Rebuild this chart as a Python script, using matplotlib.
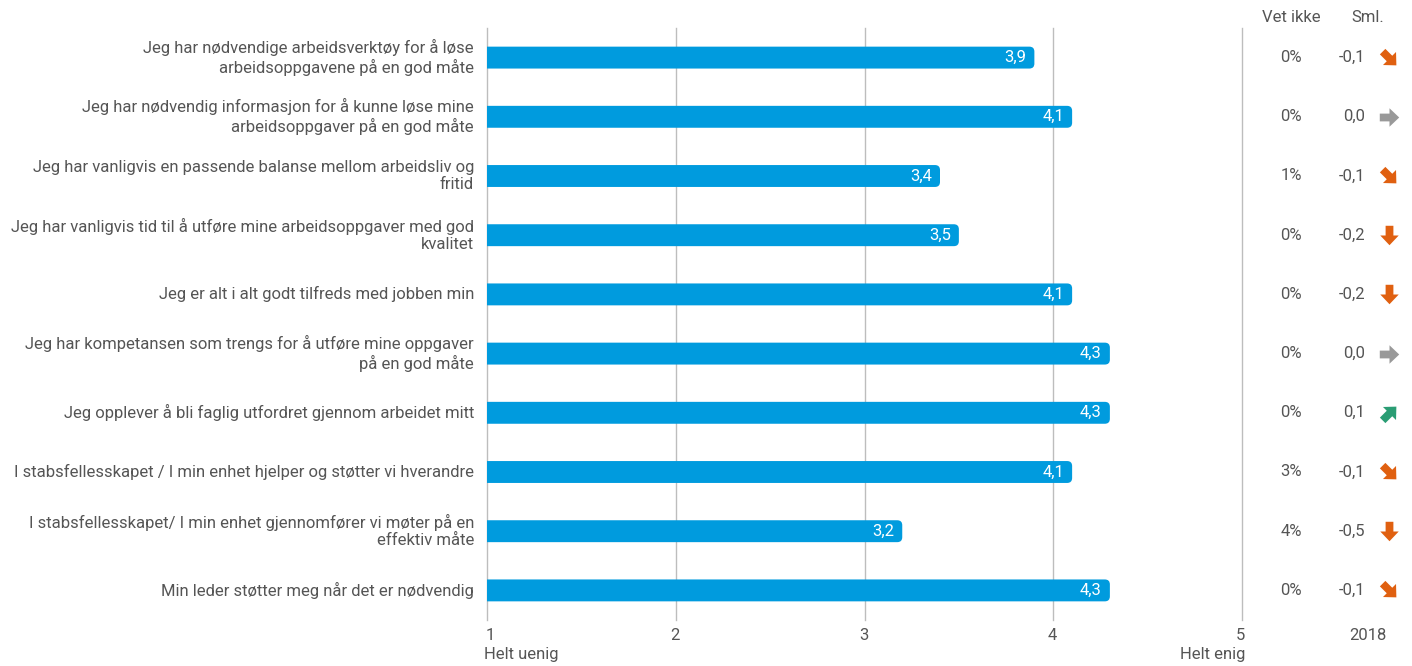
import numpy as np
import matplotlib
matplotlib.use('Agg')
import matplotlib.pyplot as plt
from matplotlib.patches import FancyBboxPatch
from matplotlib.path import Path
from matplotlib.markers import MarkerStyle
from matplotlib.transforms import Affine2D

plt.rcParams['font.family'] = ['Roboto', 'DejaVu Sans']

# -------------------------------------------------------------------------
# data
# -------------------------------------------------------------------------
labels = [
    'Jeg har nødvendige arbeidsverktøy for å løse\narbeidsoppgavene på en god måte',
    'Jeg har nødvendig informasjon for å kunne løse mine\narbeidsoppgaver på en god måte',
    'Jeg har vanligvis en passende balanse mellom arbeidsliv og\nfritid',
    'Jeg har vanligvis tid til å utføre mine arbeidsoppgaver med god\nkvalitet',
    'Jeg er alt i alt godt tilfreds med jobben min',
    'Jeg har kompetansen som trengs for å utføre mine oppgaver\npå en god måte',
    'Jeg opplever å bli faglig utfordret gjennom arbeidet mitt',
    'I stabsfellesskapet / I min enhet hjelper og støtter vi hverandre',
    'I stabsfellesskapet/ I min enhet gjennomfører vi møter på en\neffektiv måte',
    'Min leder støtter meg når det er nødvendig',
]
scores = [3.9, 4.1, 3.4, 3.5, 4.1, 4.3, 4.3, 4.1, 3.2, 4.3]
vet_ikke = ['0%', '0%', '1%', '0%', '0%', '0%', '0%', '3%', '4%', '0%']
sml = [-0.1, 0.0, -0.1, -0.2, -0.2, 0.0, 0.1, -0.1, -0.5, -0.1]
xticks = [1, 2, 3, 4, 5]

# -------------------------------------------------------------------------
# style
# -------------------------------------------------------------------------
W, H = 1412, 666
bar_col = '#009BDE'
txt_col = '#555555'
grid_col = '#BDBDBD'
fs = 12

fig = plt.figure(figsize=(W / 100, H / 100), dpi=100)
# axes placed in pixel coordinates: x 487..1242, y 28..620
ax = fig.add_axes([487 / W, (H - 620) / H, (1242 - 487) / W, (620 - 28) / H])
n = len(scores)
ax.set_xlim(1, 5)
ax.set_ylim(n - 0.5, -0.5)
ax.axis('off')

for x in xticks:
    ax.axvline(x, color=grid_col, lw=1, zorder=0, clip_on=False)

bh = 0.37
px_x = (1242 - 487) / 4
px_y = (620 - 28) / n
r = 5 / px_x
for i, v in enumerate(scores):
    # start left of the axes so the clip box squares off the left end
    p = FancyBboxPatch((0.9, i - bh / 2), v - 0.9, bh,
                       boxstyle=f'round,pad=0,rounding_size={r}',
                       mutation_aspect=px_x / px_y,
                       fc=bar_col, ec='none', zorder=2)
    ax.add_patch(p)
    ax.text(v - 8 / px_x, i, f'{v:.1f}'.replace('.', ','), color='white',
            ha='right', va='center', fontsize=fs, zorder=3)
    ax.text(1 - 13 / px_x, i, labels[i], color=txt_col, ha='right',
            va='center', fontsize=fs, linespacing=1.2)

# x tick labels
to_fig = lambda x, y: (x / W, 1 - y / H)
for x in xticks:
    px = 487 + (x - 1) * px_x
    ha = 'left' if x == 1 else ('right' if x == 5 else 'center')
    fig.text(*to_fig(px + (3 if x == 5 else -1), 636), str(x), ha=ha,
             va='center', color=txt_col, fontsize=fs)
fig.text(*to_fig(484, 654), 'Helt uenig', ha='left', va='center',
         color=txt_col, fontsize=fs)
fig.text(*to_fig(1245, 654), 'Helt enig', ha='right', va='center',
         color=txt_col, fontsize=fs)

# right side columns
fig.text(*to_fig(1291, 18), 'Vet ikke', ha='center', va='center',
         color=txt_col, fontsize=fs)
fig.text(*to_fig(1368, 18), 'Sml.', ha='center', va='center',
         color=txt_col, fontsize=fs)
fig.text(*to_fig(1368, 636), '2018', ha='center', va='center',
         color=txt_col, fontsize=fs)

arrow = Path([(-1, -0.4), (0, -0.4), (0, -0.95), (1, 0), (0, 0.95),
              (0, 0.4), (-1, 0.4), (-1, -0.4)])


def arrow_style(d):
    if d >= 0.1:
        return 45, '#2A9D74'
    if d == 0:
        return 0, '#999999'
    if d >= -0.1:
        return -45, '#E06010'
    return -90, '#E06010'


for i, d in enumerate(sml):
    y = 28 + (i + 0.5) * px_y
    fig.text(*to_fig(1291, y), vet_ikke[i], ha='center', va='center',
             color=txt_col, fontsize=fs)
    fig.text(*to_fig(1365, y), f'{d:.1f}'.replace('.', ','), ha='right',
             va='center', color=txt_col, fontsize=fs)
    ang, col = arrow_style(round(d, 2))
    m = MarkerStyle(arrow, transform=Affine2D().rotate_deg(ang))
    fig.add_artist(plt.Line2D([1389 / W], [1 - y / H], marker=m,
                              markersize=14, color=col, mec='none', lw=0,
                              transform=fig.transFigure))

fig.savefig('out.png', dpi=100)
